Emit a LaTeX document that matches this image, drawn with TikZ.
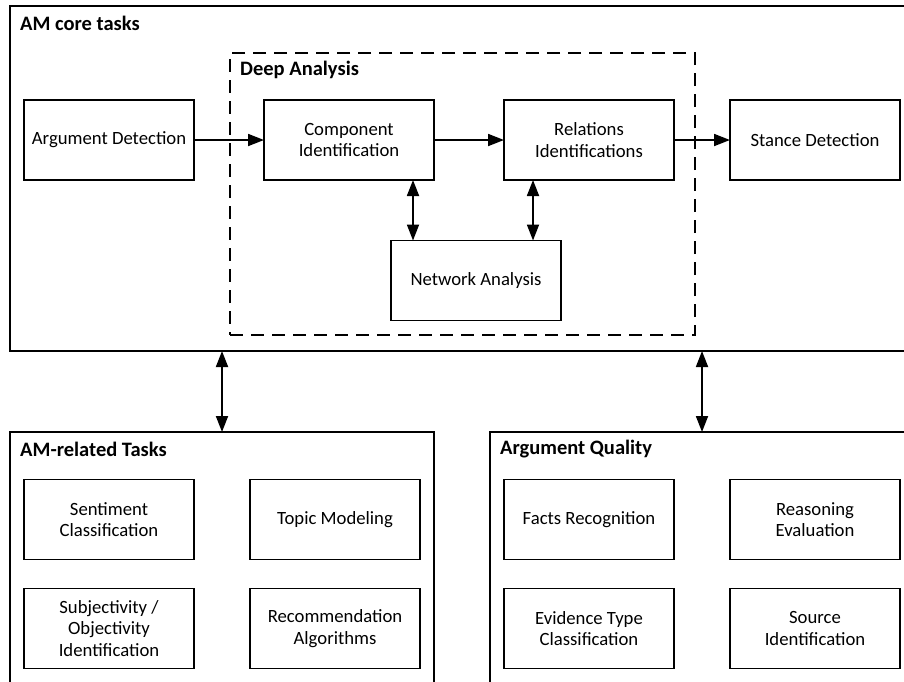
\documentclass[tikz,border=0pt]{standalone}
\usepackage{fontspec}
\setmainfont{Carlito}
\usetikzlibrary{arrows.meta, positioning, calc}
\tikzstyle{line} = [draw, -{Triangle[length=16pt,width=12pt]}, line width=1.8pt]
\tikzstyle{biline} = [draw, {Triangle[length=16pt,width=12pt]}-{Triangle[length=16pt,width=12pt]}, line width=1.8pt]

\begin{document}
\begin{tikzpicture}[x=1pt, y=-1pt, font=\fontsize{18.7}{21.7}\selectfont,
  task/.style={rectangle, draw=black, line width=1.9pt, minimum width=170pt, minimum height=80pt, inner sep=2pt, outer sep=0pt, align=center},
  group/.style={rectangle, draw=black, line width=2pt, anchor=north west, inner sep=0pt, outer sep=0pt},
  title/.style={anchor=west, font=\fontsize{20.5}{24}\selectfont\bfseries, inner sep=0pt}]

    \useasboundingbox (0,0) rectangle (904,681);

    % groups
    \node[group, minimum width=910pt, minimum height=345pt] (core) at (10,6) {};
    \node[group, dash pattern=on 13pt off 8pt, line width=1.9pt, minimum width=465pt, minimum height=282pt] (deep) at (230,53) {};
    \node[group, minimum width=424pt, minimum height=280pt] (related) at (10,432) {};
    \node[group, minimum width=424pt, minimum height=280pt] (quality) at (490,432) {};

    \node[title] (coretitle) at (20,23) {AM core tasks};
    \node[title] (deeptitle) at (240,70) {Deep Analysis};
    \node[title] (relatedtitle) at (20,449) {AM-related Tasks};
    \node[title] (qualitytitle) at (500,449) {Argument Quality};

    % core tasks
    \node[task] (argdet) at (109,140) {Argument Detection};
    \node[task, right=70pt of argdet] (comp) {Component\\Identification};
    \node[task, right=70pt of comp] (rel) {Relations\\Identifications};
    \node[task, right=56pt of rel] (stance) {Stance Detection};
    \node[task] (network) at (476,280.5) {Network Analysis};

    \draw[line] (argdet) -- (comp);
    \draw[line] (comp) -- (rel);
    \draw[line] (rel) -- (stance);

    \coordinate (cn) at ([xshift=-63pt]network.north);
    \coordinate (rn) at ([xshift=57pt]network.north);
    \draw[biline] (cn |- comp.south) -- (cn);
    \draw[biline] (rn |- rel.south) -- (rn);

    % related tasks
    \node[task] (senti) at (109,519.5) {Sentiment\\Classification};
    \node[task, right=56pt of senti] (topic) {Topic Modeling};
    \node[task, below=29pt of senti] (subj) {Subjectivity /\\Objectivity\\Identification};
    \node[task, right=56pt of subj] (recom) {Recommendation\\Algorithms};

    % argument quality
    \node[task] (facts) at (589,519.5) {Facts Recognition};
    \node[task, right=56pt of facts] (reason) {Reasoning\\Evaluation};
    \node[task, below=29pt of facts] (evid) {Evidence Type\\Classification};
    \node[task, right=56pt of evid] (source) {Source\\Identification};

    \draw[biline] (core.south -| related.north) -- (related.north);
    \draw[biline] (core.south -| quality.north) -- (quality.north);

\end{tikzpicture}
\end{document}
